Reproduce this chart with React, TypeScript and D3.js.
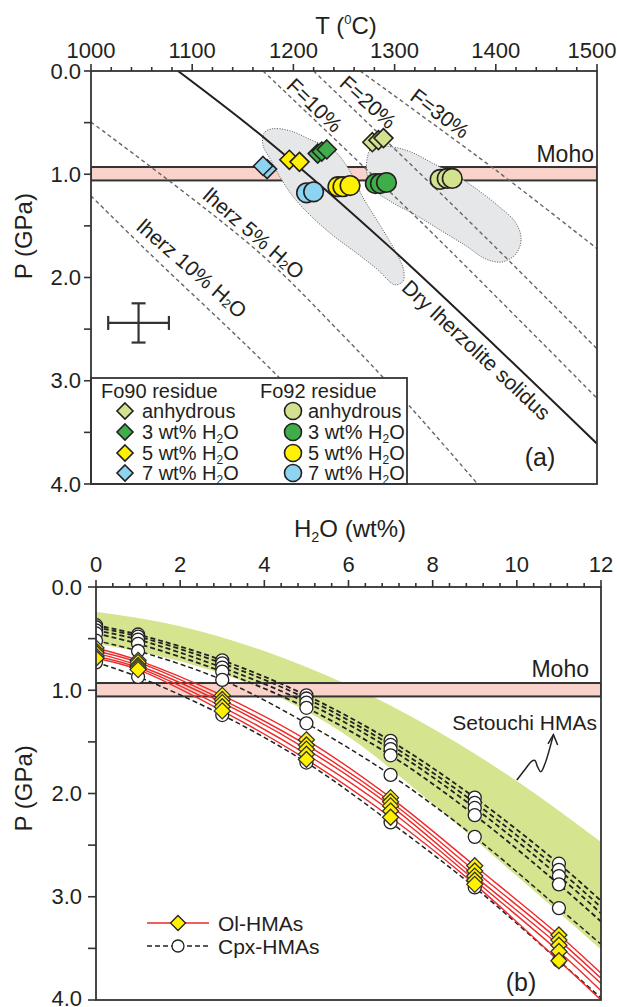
import React from 'react';
import * as d3 from 'd3';

// ---------- shared ticks ----------
const tTicks = [1000, 1100, 1200, 1300, 1400, 1500];
const tMinor = d3.range(1000, 1501, 20);
const pTicks = [0, 1, 2, 3, 4];
const pTickLabels = ['0.0', '1.0', '2.0', '3.0', '4.0'];
const pMinor = [0, 0.5, 1, 1.5, 2, 2.5, 3, 3.5, 4];
const wTicks = [0, 2, 4, 6, 8, 10, 12];
const wMinor = d3.range(0, 12.01, 0.4);

const mohoTop = 0.93;
const mohoBottom = 1.06;

// ---------- panel (a) curves: [T, P] ----------
const drySolidus = [[1086, 0], [1174, 0.67], [1298, 1.73], [1500, 3.61]];
const lherz5 = [[1000, 0.495], [1164, 1.74], [1247, 2.54], [1316, 3.26], [1382, 4.0]];
const lherz10 = [[1000, 1.21], [1055, 1.74], [1187, 2.98], [1284, 4.0]];
const f10 = [[1170, 0], [1330, 1.5], [1500, 3.17]];
const f20 = [[1220, 0], [1370, 1.42], [1500, 2.69]];
const f30 = [[1266, 0], [1400, 0.96], [1500, 1.72]];

const region1 = [[1171, 0.6], [1179, 0.56], [1197, 0.58], [1218, 0.67], [1239, 0.76], [1254, 0.94], [1269, 1.23], [1286, 1.5], [1301, 1.75], [1309, 1.93], [1308, 2.04], [1300, 2.07], [1284, 1.93], [1262, 1.76], [1240, 1.6], [1218, 1.41], [1200, 1.22], [1187, 1.03], [1177, 0.85], [1170, 0.72]];
const region2 = [[1277, 0.75], [1293, 0.73], [1315, 0.78], [1337, 0.89], [1360, 1.01], [1382, 1.15], [1404, 1.32], [1419, 1.46], [1425, 1.62], [1420, 1.77], [1406, 1.85], [1390, 1.82], [1370, 1.69], [1345, 1.54], [1320, 1.39], [1297, 1.27], [1280, 1.15], [1273, 1.01], [1273, 0.84]];

// ---------- panel (a) points ----------
const fo90Anhydrous = [[1278, 0.69], [1284, 0.67], [1289, 0.65]];
const fo90H3 = [[1224, 0.8], [1228, 0.78], [1233, 0.76]];
const fo90H5 = [[1196, 0.86], [1206, 0.88]];
const fo90H7 = [[1174, 0.95], [1170, 0.92]];
const fo92Anhydrous = [[1345, 1.05], [1352, 1.04], [1357, 1.04]];
const fo92H3 = [[1281, 1.09], [1286, 1.09], [1292, 1.08]];
const fo92H5 = [[1244, 1.12], [1249, 1.12], [1256, 1.11]];
const fo92H7 = [[1213, 1.18], [1220, 1.17]];
const errorBar = { t: 1047, p: 2.44, dt: 30, dp: 0.19 };

// ---------- panel (b) ----------
const wCols = [0, 1, 3, 5, 7, 9, 11];
const olSeries = [
  [0.59, 0.71, 1.05, 1.48, 2.04, 2.7, 3.37],
  [0.62, 0.73, 1.09, 1.53, 2.08, 2.75, 3.42],
  [0.64, 0.76, 1.12, 1.57, 2.12, 2.8, 3.47],
  [0.67, 0.78, 1.16, 1.62, 2.17, 2.84, 3.53],
  [0.69, 0.8, 1.2, 1.67, 2.23, 2.88, 3.62],
];
const olEnd = [3.74, 3.79, 3.84, 3.91, 4.0];
const cpxSeries = [
  [0.37, 0.46, 0.71, 1.05, 1.49, 2.04, 2.68],
  [0.39, 0.48, 0.74, 1.08, 1.53, 2.09, 2.74],
  [0.42, 0.51, 0.78, 1.12, 1.57, 2.14, 2.8],
  [0.45, 0.55, 0.82, 1.17, 1.63, 2.21, 2.88],
  [0.52, 0.62, 0.9, 1.32, 1.82, 2.42, 3.11],
  [0.73, 0.87, 1.24, 1.7, 2.28, 2.91, 3.62],
];
const cpxEnd = [3.04, 3.1, 3.16, 3.24, 3.46, 3.98];
const setouchiW = [0, 2, 4, 6, 8, 10, 12];
const setouchiUpper = [0.24, 0.38, 0.62, 0.95, 1.37, 1.88, 2.47];
const setouchiLower = [0.55, 0.72, 1.0, 1.45, 2.1, 2.8, 3.51];
const squiggle = [[10.0, 1.87], [10.19, 1.77], [10.35, 1.69], [10.43, 1.68], [10.49, 1.74], [10.57, 1.79], [10.67, 1.71], [10.77, 1.58], [10.87, 1.43]];
const arrowBarbs = [[10.74, 1.52], [10.87, 1.43], [10.97, 1.53]];

// ---------- styles ----------
const FONT = "'Liberation Sans', Arial, Helvetica, sans-serif";
const INK = '#231f20';
const C_ANHY = '#d2e28e';
const C_H3 = '#3fae4a';
const C_H5 = '#fff100';
const C_H7 = '#8dd4f3';
const PINK = '#f9d3ca';
const GRAY = '#e6e7e8';
const GREEN_BAND = '#d5e48f';
const RED = '#ee2a2a';

const diamond = (r: number) => `M0,${-r}L${r},0L0,${r}L${-r},0Z`;

function H2O({ size }: { size: number }) {
  return (
    <>
      H<tspan dy={size * 0.22} fontSize={size * 0.6}>2</tspan>
      <tspan dy={-size * 0.22}>O</tspan>
    </>
  );
}

export default function App() {
  const W = 617, H = 1007;
  const xT = d3.scaleLinear().domain([1000, 1500]).range([91, 597]);
  const yT = d3.scaleLinear().domain([0, 4]).range([71, 484]);
  const xB = d3.scaleLinear().domain([0, 12]).range([96, 601]);
  const yB = d3.scaleLinear().domain([0, 4]).range([587, 1000]);

  const lineT = d3.line<number[]>().x(d => xT(d[0])).y(d => yT(d[1])).curve(d3.curveCatmullRom);
  const regionT = d3.line<number[]>().x(d => xT(d[0])).y(d => yT(d[1])).curve(d3.curveCatmullRomClosed);
  const lineB = d3.line<number[]>().x(d => xB(d[0])).y(d => yB(d[1])).curve(d3.curveCatmullRom);

  const band = d3.area<number>()
    .x((_, i) => xB(setouchiW[i]))
    .y0((_, i) => yB(setouchiUpper[i]))
    .y1((_, i) => yB(setouchiLower[i]))
    .curve(d3.curveMonotoneX);

  const dashT = '4,3';

  const diamondsTop = (pts: number[][], fill: string) =>
    pts.map((d, i) => (
      <path key={i} d={diamond(9.5)} transform={`translate(${xT(d[0])},${yT(d[1])})`} fill={fill} stroke={INK} strokeWidth={1.6} />
    ));
  const circlesTop = (pts: number[][], fill: string) =>
    pts.map((d, i) => (
      <circle key={i} cx={xT(d[0])} cy={yT(d[1])} r={9.8} fill={fill} stroke={INK} strokeWidth={1.6} />
    ));

  const labelAt = (t: number, p: number, angle: number, content: React.ReactNode, size = 21, key?: string) => (
    <text key={key} transform={`translate(${xT(t)},${yT(p)}) rotate(${angle})`} textAnchor="middle" dominantBaseline="central" fontSize={size} fill={INK}>
      {content}
    </text>
  );

  const legendRowsY = [411, 432, 453, 473];
  const legendFills = [C_ANHY, C_H3, C_H5, C_H7];
  const legendTexts = ['anhydrous', '3 wt% H2O', '5 wt% H2O', '7 wt% H2O'];
  const legendLabel = (s: string) =>
    s.endsWith('H2O') ? (<>{s.replace('H2O', '')}<H2O size={20} /></>) : s;

  return (
    <svg width={W} height={H} style={{ position: 'absolute', left: 0, top: 0, background: '#fff' }} fontFamily={FONT}>
      <defs>
        <clipPath id="clipA"><rect x={91} y={71} width={506} height={413} /></clipPath>
        <clipPath id="clipB"><rect x={96} y={587} width={505} height={413} /></clipPath>
      </defs>

      {/* ================= Panel (a) ================= */}
      <g clipPath="url(#clipA)">
        <rect x={xT(1000)} y={yT(mohoTop)} width={xT(1500) - xT(1000)} height={yT(mohoBottom) - yT(mohoTop)} fill={PINK} stroke="#333" strokeWidth={2} />
        <path d={regionT(region1) || ''} fill={GRAY} stroke="#555" strokeWidth={1} strokeDasharray="1,1.5" />
        <path d={regionT(region2) || ''} fill={GRAY} stroke="#555" strokeWidth={1} strokeDasharray="1,1.5" />
        {[lherz5, lherz10, f10, f20, f30].map((l, i) => (
          <path key={i} d={lineT(l) || ''} fill="none" stroke="#666" strokeWidth={1.4} strokeDasharray={dashT} />
        ))}
        <path d={lineT(drySolidus) || ''} fill="none" stroke={INK} strokeWidth={2} />

        {diamondsTop(fo90Anhydrous, C_ANHY)}
        {diamondsTop(fo90H3, C_H3)}
        {diamondsTop(fo90H5, C_H5)}
        {diamondsTop(fo90H7, C_H7)}
        {circlesTop(fo92Anhydrous, C_ANHY)}
        {circlesTop(fo92H3, C_H3)}
        {circlesTop(fo92H5, C_H5)}
        {circlesTop(fo92H7, C_H7)}

        {/* error bar */}
        <g stroke="#333" strokeWidth={2.2}>
          <line x1={xT(errorBar.t - errorBar.dt)} x2={xT(errorBar.t + errorBar.dt)} y1={yT(errorBar.p)} y2={yT(errorBar.p)} />
          <line x1={xT(errorBar.t)} x2={xT(errorBar.t)} y1={yT(errorBar.p - errorBar.dp)} y2={yT(errorBar.p + errorBar.dp)} />
          <line x1={xT(errorBar.t - errorBar.dt)} x2={xT(errorBar.t - errorBar.dt)} y1={yT(errorBar.p) - 7} y2={yT(errorBar.p) + 7} />
          <line x1={xT(errorBar.t + errorBar.dt)} x2={xT(errorBar.t + errorBar.dt)} y1={yT(errorBar.p) - 7} y2={yT(errorBar.p) + 7} />
          <line x1={xT(errorBar.t) - 7} x2={xT(errorBar.t) + 7} y1={yT(errorBar.p - errorBar.dp)} y2={yT(errorBar.p - errorBar.dp)} />
          <line x1={xT(errorBar.t) - 7} x2={xT(errorBar.t) + 7} y1={yT(errorBar.p + errorBar.dp)} y2={yT(errorBar.p + errorBar.dp)} />
        </g>
      </g>

      {/* labels (a) */}
      {labelAt(1221, 0.33, 44, 'F=10%', 21, 'f10')}
      {labelAt(1274, 0.3, 42, 'F=20%', 21, 'f20')}
      {labelAt(1345, 0.41, 37, 'F=30%', 21, 'f30')}
      {labelAt(1161, 1.57, 41, <>lherz 5% <H2O size={21} /></>, 21, 'l5')}
      {labelAt(1100, 1.91, 41, <>lherz 10% <H2O size={21} /></>, 21, 'l10')}
      {labelAt(1381, 2.7, 43, 'Dry lherzolite solidus', 21, 'dry')}
      <text x={594} y={162} textAnchor="end" fontSize={23} fill={INK}>Moho</text>
      <text x={540} y={466} textAnchor="middle" fontSize={25} fill={INK}>(a)</text>

      {/* legend (a) */}
      <rect x={91} y={378} width={316} height={106} fill="#fff" stroke="#333" strokeWidth={1.8} />
      <text x={101} y={398} fontSize={20} fill={INK}>Fo90 residue</text>
      <text x={260} y={398} fontSize={20} fill={INK}>Fo92 residue</text>
      {legendRowsY.map((y, i) => (
        <g key={i}>
          <path d={diamond(8)} transform={`translate(125,${y})`} fill={legendFills[i]} stroke={INK} strokeWidth={1.6} />
          <text x={142} y={y + 7} fontSize={20} fill={INK}>{legendLabel(legendTexts[i])}</text>
          <circle cx={293} cy={y} r={8.5} fill={legendFills[i]} stroke={INK} strokeWidth={1.6} />
          <text x={308} y={y + 7} fontSize={20} fill={INK}>{legendLabel(legendTexts[i])}</text>
        </g>
      ))}

      {/* frame & axes (a) */}
      <rect x={91} y={71} width={506} height={413} fill="none" stroke="#333" strokeWidth={1.8} />
      {tMinor.map(t => (
        <line key={t} x1={xT(t)} x2={xT(t)} y1={71} y2={t % 100 === 0 ? 64 : 67} stroke="#333" strokeWidth={1.6} />
      ))}
      {tTicks.map(t => (
        <text key={t} x={Math.min(xT(t), W - 25)} y={58} textAnchor="middle" fontSize={22} fill={INK}>{t}</text>
      ))}
      {pMinor.map(p => (
        <line key={p} x1={84} x2={91} y1={yT(p)} y2={yT(p)} stroke="#333" strokeWidth={1.6} />
      ))}
      {pTicks.map((p, i) => (
        <text key={p} x={81} y={yT(p)} textAnchor="end" dominantBaseline="central" fontSize={22} fill={INK}>{pTickLabels[i]}</text>
      ))}
      <text x={346} y={34} textAnchor="middle" fontSize={24} fill={INK}>
        T (<tspan fontSize={13} dy={-10}>0</tspan><tspan dy={10}>C)</tspan>
      </text>
      <text transform={`translate(23,${yT(1.6)}) rotate(-90)`} textAnchor="middle" dominantBaseline="central" fontSize={24} fill={INK}>P (GPa)</text>

      {/* ================= Panel (b) ================= */}
      <g clipPath="url(#clipB)">
        <path d={band(setouchiW) || ''} fill={GREEN_BAND} />
        <rect x={xB(0)} y={yB(mohoTop)} width={xB(12) - xB(0)} height={yB(mohoBottom) - yB(mohoTop)} fill={PINK} stroke="#333" strokeWidth={2} />
        {cpxSeries.map((s, i) => (
          <path key={'c' + i} d={lineB([...wCols.map((w, j) => [w, s[j]]), [12, cpxEnd[i]]]) || ''} fill="none" stroke="#222" strokeWidth={i < 4 ? 1.8 : 1.5} strokeDasharray="5,3" />
        ))}
        {olSeries.map((s, i) => (
          <path key={'o' + i} d={lineB([...wCols.map((w, j) => [w, s[j]]), [12, olEnd[i]]]) || ''} fill="none" stroke={RED} strokeWidth={1.4} />
        ))}
        {cpxSeries.map((s, i) =>
          wCols.map((w, j) => (
            <circle key={`cc${i}-${j}`} cx={xB(w)} cy={yB(s[j])} r={6.5} fill="#fff" stroke="#222" strokeWidth={1.3} />
          ))
        )}
        {olSeries.map((s, i) =>
          wCols.map((w, j) => (
            <path key={`od${i}-${j}`} d={diamond(8)} transform={`translate(${xB(w)},${yB(s[j])})`} fill={C_H5} stroke="#333" strokeWidth={1.3} />
          ))
        )}
        <path d={lineB(squiggle) || ''} fill="none" stroke="#222" strokeWidth={1.5} />
        <path d={d3.line<number[]>().x(d => xB(d[0])).y(d => yB(d[1]))(arrowBarbs) || ''} fill="none" stroke="#222" strokeWidth={1.5} />
      </g>

      <text x={589} y={677} textAnchor="end" fontSize={23} fill={INK}>Moho</text>
      <text x={597} y={730} textAnchor="end" fontSize={21} fill={INK}>Setouchi HMAs</text>
      <text x={521} y={991} textAnchor="middle" fontSize={25} fill={INK}>(b)</text>

      {/* legend (b) */}
      <line x1={147} x2={209} y1={923} y2={923} stroke={RED} strokeWidth={1.5} />
      <path d={diamond(7.5)} transform="translate(178,923)" fill={C_H5} stroke="#222" strokeWidth={1.3} />
      <text x={218} y={931} fontSize={21} fill={INK}>Ol-HMAs</text>
      <line x1={147} x2={209} y1={946} y2={946} stroke="#222" strokeWidth={1.3} strokeDasharray="5,3" />
      <circle cx={178} cy={946} r={6} fill="#fff" stroke="#222" strokeWidth={1.3} />
      <text x={218} y={954} fontSize={21} fill={INK}>Cpx-HMAs</text>

      {/* frame & axes (b) */}
      <rect x={96} y={587} width={505} height={413} fill="none" stroke="#333" strokeWidth={1.8} />
      {wMinor.map(w => (
        <line key={w} x1={xB(w)} x2={xB(w)} y1={587} y2={Math.abs(w / 2 - Math.round(w / 2)) < 1e-6 ? 580 : 583} stroke="#333" strokeWidth={1.6} />
      ))}
      {wTicks.map(w => (
        <text key={w} x={xB(w)} y={572} textAnchor="middle" fontSize={22} fill={INK}>{w}</text>
      ))}
      {pMinor.map(p => (
        <line key={p} x1={88} x2={96} y1={yB(p)} y2={yB(p)} stroke="#333" strokeWidth={1.6} />
      ))}
      {pTicks.map((p, i) => (
        <text key={p} x={82} y={Math.min(yB(p), H - 9)} textAnchor="end" dominantBaseline="central" fontSize={22} fill={INK}>{pTickLabels[i]}</text>
      ))}
      <text x={350} y={537} textAnchor="middle" fontSize={24} fill={INK}>
        <H2O size={24} /> (wt%)
      </text>
      <text transform={`translate(23,${yB(1.95)}) rotate(-90)`} textAnchor="middle" dominantBaseline="central" fontSize={24} fill={INK}>P (GPa)</text>
    </svg>
  );
}
